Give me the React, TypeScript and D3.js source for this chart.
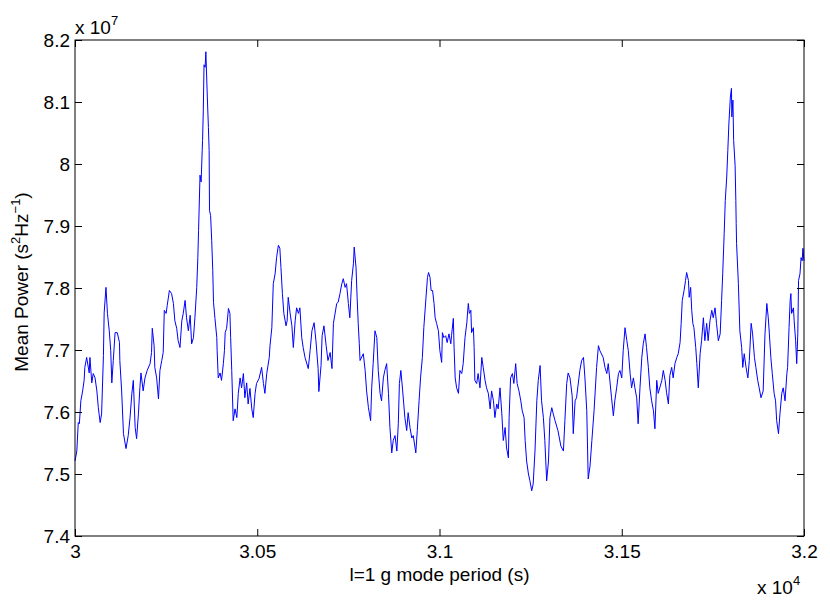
import React, { useRef, useEffect } from 'react';
import * as d3 from 'd3';

// l=1 g mode period (s)
const periods = [
  30000,30005,30009,30012,30016,30021,30025,30027,30032,30039,
  30041,30046,30050,30055,30060,30064,30069,30073,30078,30080,
  30085,30089,30094,30098,30101,30105,30110,30116,30122,30123,
  30128,30133,30140,30146,30151,30156,30160,30165,30169,30174,
  30178,30181,30187,30192,30198,30206,30210,30212,30217,30219,
  30224,30229,30233,30238,30242,30245,30250,30253,30259,30265,
  30270,30274,30279,30283,30288,30293,30297,30302,30306,30311,
  30316,30320,30325,30329,30334,30337,30339,30343,30346,30349,
  30350,30352,30354,30357,30359,30363,30366,30368,30369,30372,
  30375,30378,30380,30384,30389,30390,30393,30398,30402,30407,
  30410,30412,30416,30421,30425,30427,30430,30434,30439,30444,
  30448,30453,30457,30462,30466,30471,30475,30480,30485,30489,
  30494,30498,30505,30512,30517,30521,30526,30533,30535,30540,
  30544,30549,30553,30558,30562,30565,30569,30573,30579,30582,
  30585,30590,30595,30599,30604,30608,30613,30617,30622,30626,
  30631,30640,30645,30650,30656,30661,30667,30669,30675,30678,
  30683,30689,30694,30700,30705,30709,30718,30722,30727,30732,
  30736,30741,30745,30750,30754,30759,30764,30766,30771,30774,
  30777,30780,30782,30791,30796,30800,30805,30811,30814,30818,
  30823,30828,30832,30837,30841,30846,30850,30855,30860,30864,
  30869,30873,30878,30883,30887,30890,30894,30899,30905,30910,
  30914,30919,30924,30928,30935,30939,30944,30948,30953,30957,
  30963,30967,30970,30974,30977,30981,30985,30988,30992,30997,
  31001,31006,31008,31012,31017,31021,31026,31031,31033,31038,
  31040,31043,31047,31052,31056,31061,31065,31070,31075,31079,
  31082,31086,31088,31093,31095,31097,31102,31106,31111,31116,
  31120,31125,31129,31134,31139,31143,31148,31152,31157,31161,
  31166,31171,31175,31180,31184,31189,31191,31195,31200,31204,
  31209,31213,31218,31223,31227,31232,31235,31239,31244,31248,
  31253,31257,31262,31267,31271,31276,31280,31285,31289,31294,
  31299,31303,31308,31312,31317,31325,31333,31340,31344,31349,
  31353,31358,31364,31367,31372,31376,31385,31390,31395,31399,
  31404,31408,31413,31418,31424,31431,31436,31440,31449,31454,
  31459,31463,31468,31472,31477,31481,31486,31491,31495,31500,
  31504,31509,31514,31518,31523,31527,31532,31536,31541,31545,
  31550,31555,31559,31564,31568,31573,31577,31582,31587,31591,
  31596,31600,31610,31614,31619,31623,31628,31632,31637,31641,
  31646,31651,31655,31660,31663,31666,31671,31675,31678,31683,
  31685,31689,31692,31695,31698,31703,31706,31710,31715,31719,
  31724,31728,31733,31737,31742,31747,31751,31756,31760,31765,
  31770,31774,31777,31781,31784,31788,31791,31794,31798,31801,
  31802,31805,31807,31811,31813,31814,31815,31820,31824,31829,
  31832,31836,31841,31846,31850,31855,31859,31864,31868,31873,
  31877,31882,31888,31893,31898,31902,31905,31909,31913,31918,
  31922,31925,31930,31934,31939,31943,31948,31953,31955,31959,
  31962,31964,31966,31971,31973,31977,31980,31983,31985,31989,
  31992,31995,31997,32000,
];

// mean power, in units of 10^7 s^2 Hz^-1
const power = [
  7.521,7.537,7.583,7.581,7.618,7.634,7.651,7.672,7.688,7.663,
  7.688,7.647,7.662,7.655,7.634,7.607,7.583,7.597,7.691,7.760,
  7.801,7.759,7.731,7.699,7.647,7.683,7.728,7.728,7.712,7.683,
  7.634,7.565,7.541,7.562,7.591,7.630,7.651,7.575,7.557,7.597,
  7.639,7.663,7.634,7.655,7.667,7.678,7.696,7.735,7.707,7.672,
  7.655,7.621,7.667,7.683,7.696,7.764,7.759,7.772,7.796,7.791,
  7.775,7.747,7.735,7.715,7.704,7.747,7.759,7.780,7.752,7.731,
  7.756,7.710,7.720,7.752,7.801,7.849,7.893,7.982,7.971,8.022,
  8.038,8.087,8.160,8.156,8.181,8.108,8.059,8.022,7.925,7.917,
  7.877,7.828,7.777,7.751,7.720,7.699,7.655,7.663,7.651,7.678,
  7.699,7.728,7.735,7.767,7.759,7.720,7.667,7.586,7.605,7.591,
  7.630,7.655,7.639,7.662,7.623,7.647,7.613,7.638,7.605,7.591,
  7.630,7.646,7.654,7.672,7.646,7.630,7.662,7.688,7.707,7.736,
  7.807,7.823,7.849,7.869,7.864,7.833,7.791,7.759,7.739,7.747,
  7.785,7.760,7.739,7.704,7.747,7.768,7.759,7.768,7.720,7.704,
  7.688,7.670,7.699,7.731,7.744,7.715,7.670,7.633,7.675,7.723,
  7.739,7.707,7.683,7.696,7.670,7.743,7.775,7.777,7.791,7.807,
  7.815,7.801,7.807,7.775,7.752,7.812,7.840,7.866,7.833,7.785,
  7.743,7.710,7.683,7.694,7.667,7.634,7.607,7.586,7.639,7.678,
  7.731,7.720,7.667,7.630,7.618,7.655,7.667,7.678,7.630,7.575,
  7.534,7.554,7.562,7.537,7.581,7.646,7.667,7.634,7.591,7.570,
  7.599,7.575,7.558,7.562,7.534,7.570,7.618,7.655,7.688,7.736,
  7.785,7.817,7.825,7.817,7.796,7.796,7.775,7.752,7.743,7.731,
  7.699,7.680,7.728,7.720,7.723,7.712,7.726,7.710,7.723,7.751,
  7.704,7.655,7.639,7.630,7.667,7.662,7.678,7.720,7.744,7.775,
  7.759,7.764,7.728,7.736,7.704,7.651,7.646,7.662,7.639,7.688,
  7.672,7.651,7.639,7.630,7.605,7.634,7.618,7.591,7.613,7.605,
  7.639,7.597,7.554,7.575,7.542,7.526,7.591,7.655,7.662,7.646,
  7.678,7.646,7.634,7.618,7.602,7.591,7.554,7.521,7.500,7.489,
  7.473,7.484,7.537,7.618,7.651,7.675,7.618,7.591,7.554,7.489,
  7.521,7.591,7.607,7.597,7.586,7.570,7.545,7.537,7.586,7.646,
  7.663,7.655,7.626,7.565,7.618,7.623,7.667,7.683,7.688,7.655,
  7.602,7.492,7.513,7.554,7.602,7.672,7.707,7.699,7.688,7.672,
  7.662,7.678,7.647,7.623,7.594,7.618,7.639,7.662,7.667,7.655,
  7.699,7.736,7.715,7.699,7.662,7.639,7.655,7.639,7.623,7.581,
  7.639,7.688,7.710,7.726,7.704,7.672,7.639,7.618,7.602,7.573,
  7.651,7.630,7.651,7.667,7.651,7.631,7.613,7.659,7.672,7.655,
  7.678,7.688,7.694,7.712,7.743,7.780,7.796,7.812,7.825,7.812,
  7.785,7.801,7.764,7.743,7.736,7.704,7.678,7.639,7.694,7.715,
  7.752,7.715,7.743,7.715,7.747,7.764,7.752,7.768,7.743,7.715,
  7.726,7.780,7.823,7.888,7.941,7.979,8.022,8.066,8.108,8.122,
  8.076,8.103,8.038,7.998,7.941,7.904,7.872,7.807,7.731,7.704,
  7.672,7.694,7.672,7.655,7.683,7.743,7.726,7.688,7.672,7.651,
  7.639,7.623,7.634,7.726,7.775,7.752,7.726,7.688,7.662,7.630,
  7.618,7.586,7.565,7.597,7.630,7.639,7.618,7.662,7.672,7.736,
  7.780,7.791,7.759,7.768,7.747,7.715,7.678,7.726,7.812,7.823,
  7.849,7.844,7.864,7.844,
];

const xTicks = [30000, 30500, 31000, 31500, 32000];
const xTickLabels = ['3', '3.05', '3.1', '3.15', '3.2'];
const yTicks = [7.4, 7.5, 7.6, 7.7, 7.8, 7.9, 8.0, 8.1, 8.2];
const yTickLabels = ['7.4', '7.5', '7.6', '7.7', '7.8', '7.9', '8', '8.1', '8.2'];

const FONT = '"Liberation Sans", Arial, Helvetica, sans-serif';

const App = () => {
  const svgRef = useRef(null);

  useEffect(() => {
    const svg = d3.select(svgRef.current);
    svg.selectAll('*').remove();

    const width = 830;
    const height = 602;
    const margin = { top: 40, right: 26, bottom: 66, left: 75 };

    const x = d3.scaleLinear().domain([30000, 32000]).range([margin.left, width - margin.right]);
    const y = d3.scaleLinear().domain([7.4, 8.2]).range([height - margin.bottom, margin.top]);

    svg.append('rect').attr('width', width).attr('height', height).attr('fill', '#fff');

    // the trace
    const data = periods.map((p, i) => [p, power[i]]);
    const line = d3.line().x(d => x(d[0])).y(d => y(d[1]));
    svg
      .append('path')
      .datum(data)
      .attr('d', line)
      .attr('fill', 'none')
      .attr('stroke', '#0000ff')
      .attr('stroke-width', 1)
      .attr('stroke-linejoin', 'round');

    // axes, ticks pointing inward like matlab
    const fmtX = (d, i) => xTickLabels[i];
    const fmtY = (d, i) => yTickLabels[i];

    const styleAxis = g => {
      g.attr('font-family', FONT).attr('font-size', 19);
      g.select('.domain').remove();
      g.selectAll('.tick line').attr('stroke', '#000');
    };

    svg.append('g')
      .attr('transform', `translate(0, ${y(7.4)})`)
      .call(d3.axisBottom(x).tickValues(xTicks).tickFormat(fmtX).tickSize(-7).tickSizeOuter(0).tickPadding(9))
      .call(styleAxis);

    svg.append('g')
      .attr('transform', `translate(0, ${y(8.2)})`)
      .call(d3.axisTop(x).tickValues(xTicks).tickFormat(() => '').tickSize(-7).tickSizeOuter(0))
      .call(styleAxis);

    svg.append('g')
      .attr('transform', `translate(${x(30000)}, 0)`)
      .call(d3.axisLeft(y).tickValues(yTicks).tickFormat(fmtY).tickSize(-7).tickSizeOuter(0).tickPadding(5))
      .call(styleAxis);

    svg.append('g')
      .attr('transform', `translate(${x(32000)}, 0)`)
      .call(d3.axisRight(y).tickValues(yTicks).tickFormat(() => '').tickSize(-7).tickSizeOuter(0))
      .call(styleAxis);

    // box
    svg.append('rect')
      .attr('x', x(30000))
      .attr('y', y(8.2))
      .attr('width', x(32000) - x(30000))
      .attr('height', y(7.4) - y(8.2))
      .attr('fill', 'none')
      .attr('stroke', '#000')
      .attr('stroke-width', 1);

    // exponent labels
    const e7 = svg.append('text')
      .attr('x', x(30000))
      .attr('y', 34)
      .attr('font-family', FONT)
      .attr('font-size', 19);
    e7.append('tspan').text('x 10');
    e7.append('tspan').attr('font-size', 13).attr('dy', -9).text('7');

    const e4 = svg.append('text')
      .attr('x', x(32000) - 47)
      .attr('y', 594)
      .attr('font-family', FONT)
      .attr('font-size', 19);
    e4.append('tspan').text('x 10');
    e4.append('tspan').attr('font-size', 13).attr('dy', -9).text('4');

    // axis titles
    svg.append('text')
      .attr('x', (x(30000) + x(32000)) / 2)
      .attr('y', 581)
      .attr('text-anchor', 'middle')
      .attr('font-family', FONT)
      .attr('font-size', 19)
      .text('l=1 g mode period (s)');

    const yl = svg.append('text')
      .attr('transform', 'translate(28, 282) rotate(-90)')
      .attr('text-anchor', 'middle')
      .attr('font-family', FONT)
      .attr('font-size', 19);
    yl.append('tspan').text('Mean Power (s');
    yl.append('tspan').attr('font-size', 13).attr('dy', -8).text('2');
    yl.append('tspan').attr('dy', 8).text('Hz');
    yl.append('tspan').attr('font-size', 13).attr('dy', -8).text('\u22121');
    yl.append('tspan').attr('dy', 8).text(')');
  }, []);

  return (
    <svg
      ref={svgRef}
      width={830}
      height={602}
      style={{ position: 'absolute', left: 0, top: 0, display: 'block' }}
    />
  );
};

export default App;
